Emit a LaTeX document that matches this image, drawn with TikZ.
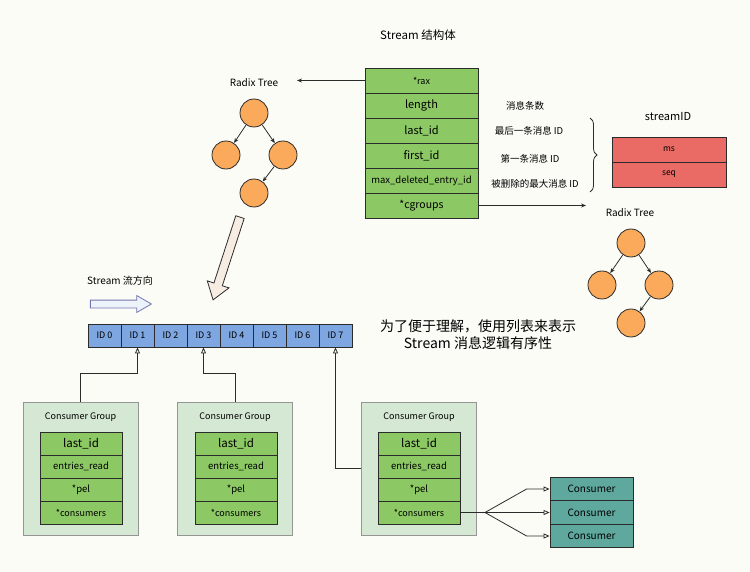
\documentclass[tikz,border=0pt]{standalone}
\usepackage{fontspec}
\setmainfont{Noto Sans CJK SC}
\usetikzlibrary{arrows.meta,shapes.arrows,decorations.pathreplacing}

\definecolor{paper}{HTML}{FCFCF7}
\definecolor{ink}{HTML}{2B2B2B}
\definecolor{fieldgreen}{HTML}{8CC864}
\definecolor{groupgreen}{HTML}{D5E8D4}
\definecolor{idred}{HTML}{EA6B66}
\definecolor{treeorange}{HTML}{FAAA5A}
\definecolor{idblue}{HTML}{7EA6E0}
\definecolor{consumerteal}{HTML}{5FA89E}
\definecolor{feedbeige}{HTML}{F6ECE2}
\definecolor{flowblue}{HTML}{ECF3FA}

\newcommand{\fsz}[1]{\fontsize{#1}{#1}\selectfont}

\tikzset{
    field/.style={draw=ink, fill=fieldgreen, minimum width=113pt, minimum height=25pt, inner sep=0pt, font=\fsz{11}},
    gfield/.style={draw=ink, fill=fieldgreen, minimum width=82pt, minimum height=23pt, inner sep=0pt, font=\fsz{9.5}},
    idfield/.style={draw=ink, fill=idred, minimum width=114pt, minimum height=25pt, inner sep=0pt, font=\fsz{8.5}},
    idcell/.style={draw=ink, fill=idblue, minimum width=33pt, minimum height=23pt, inner sep=0pt, font=\fsz{9}},
    groupbox/.style={draw=ink!50, fill=groupgreen, minimum width=115pt, minimum height=133pt, inner sep=0pt},
    consumer/.style={draw=ink, fill=consumerteal, minimum width=83pt, minimum height=23.5pt, inner sep=0pt, font=\fsz{10}},
    treenode/.style={circle, draw=ink, fill=treeorange, minimum size=28pt, inner sep=0pt},
    note/.style={font=\fsz{9.5}},
    openarrow/.style={-{Triangle[open,length=6pt,width=5pt]}},
}

\begin{document}
\begin{tikzpicture}[x=1pt, y=-1pt, line width=0.8pt, draw=ink, >={Stealth[length=5pt,width=4pt]}]
    \useasboundingbox[fill=paper] (0,0) rectangle (750,572);

    % Stream struct
    \node[font=\fsz{11.5}] (title) at (418,35) {Stream 结构体};
    \node[field, font=\fsz{9}] (rax) at (421.5,80.5) {*rax};
    \node[field] (len) at (421.5,105.5) {length};
    \node[field] (last) at (421.5,130.5) {last\_id};
    \node[field] (first) at (421.5,155.5) {first\_id};
    \node[field, font=\fsz{9.5}] (maxdel) at (421.5,180.5) {max\_deleted\_entry\_id};
    \node[field, font=\fsz{10.5}] (cgroups) at (421.5,205.5) {*cgroups};

    % Field notes
    \node[note] (lenNote) at (525,106) {消息条数};
    \node[note] (lastNote) at (529,131) {最后一条消息 ID};
    \node[note] (firstNote) at (530,159) {第一条消息 ID};
    \node[note] (maxdelNote) at (535,184) {被删除的最大消息 ID};
    \coordinate (braceTop) at (590,118);
    \coordinate (braceBot) at (590,192);
    \draw[decorate, decoration={brace, amplitude=7pt}] (braceTop) -- (braceBot);

    % streamID
    \node[font=\fsz{11}] (sidTitle) at (668,117) {streamID};
    \node[idfield] (ms) at (669,149.5) {ms};
    \node[idfield] (seq) at (669,174.5) {seq};

    % Radix tree behind *rax
    \node[font=\fsz{10}] (ltLabel) at (254,83) {Radix Tree};
    \node[treenode] (lt1) at (254,113) {};
    \node[treenode] (lt2) at (226,155) {};
    \node[treenode] (lt3) at (283,155) {};
    \node[treenode] (lt4) at (254,193) {};
    \draw[->] (lt1) -- (lt2);
    \draw[->] (lt1) -- (lt3);
    \draw[->] (lt3) -- (lt4);
    \coordinate (raxEnd) at (297,80.5);
    \draw[->] (rax.west) -- (raxEnd);

    % Radix tree behind *cgroups
    \node[font=\fsz{10}] (rtLabel) at (630,213) {Radix Tree};
    \node[treenode] (rt1) at (631,243) {};
    \node[treenode] (rt2) at (602,285) {};
    \node[treenode] (rt3) at (659,285) {};
    \node[treenode] (rt4) at (631,323) {};
    \draw[->] (rt1) -- (rt2);
    \draw[->] (rt1) -- (rt3);
    \draw[->] (rt3) -- (rt4);
    \coordinate (cgEnd) at (586,205.5);
    \draw[->] (cgroups.east) -- (cgEnd);

    % Hollow arrows
    \node[single arrow, draw=ink, fill=feedbeige, inner sep=4pt, minimum height=87pt,
          single arrow head extend=7pt, single arrow tip angle=70, rotate=252] (feed) at (227.5,255.5) {};
    \node[font=\fsz{10}] (flowLabel) at (120,281) {Stream 流方向};
    \node[single arrow, draw=ink!60!blue!60, fill=flowblue, inner sep=3.5pt, minimum height=61pt,
          single arrow head extend=4.5pt, single arrow tip angle=60] (flow) at (117.5,304) {};

    % Message list
    \foreach \i in {0,...,7}
        \node[idcell] (id\i) at (104.5+33*\i,335.5) {ID \i};
    \node[font=\fontsize{14}{17}\selectfont, align=center] (remark) at (478,334.5)
        {为了便于理解，使用列表来表示\\Stream 消息逻辑有序性};

    % Consumer groups
    \foreach \g/\gx/\fx in {1/80.5/81, 2/235/236, 3/419/419} {
        \node[groupbox] (cg\g) at (\gx,468.5) {};
        \node[font=\fsz{9}] (cgTitle\g) at (\gx,417) {Consumer Group};
        \node[gfield, font=\fsz{11.5}] (lastid\g) at (\fx,443.5) {last\_id};
        \node[gfield] (read\g) at (\fx,466.5) {entries\_read};
        \node[gfield] (pel\g) at (\fx,489.5) {*pel};
        \node[gfield, font=\fsz{9}] (cons\g) at (\fx,512.5) {*consumers};
    }
    \draw[openarrow] (cg1.north) |- ([yshift=-26pt]id1.south) -- (id1.south);
    \draw[openarrow] (cg2.north) |- ([yshift=-26pt]id3.south) -- (id3.south);
    \draw[openarrow] (cg3.west) -| (id7.south);

    % Consumers
    \node[consumer] (con1) at (591.5,489) {Consumer};
    \node[consumer] (con2) at (591.5,512.5) {Consumer};
    \node[consumer] (con3) at (591.5,536) {Consumer};
    \coordinate (fan) at (485,512.5);
    \draw (cons3.east) -- (fan);
    \draw[openarrow] (fan) -- ([xshift=-23pt]con1.west) -- (con1.west);
    \draw[openarrow] (fan) -- (con2.west);
    \draw[openarrow] (fan) -- ([xshift=-23pt]con3.west) -- (con3.west);
\end{tikzpicture}
\end{document}
